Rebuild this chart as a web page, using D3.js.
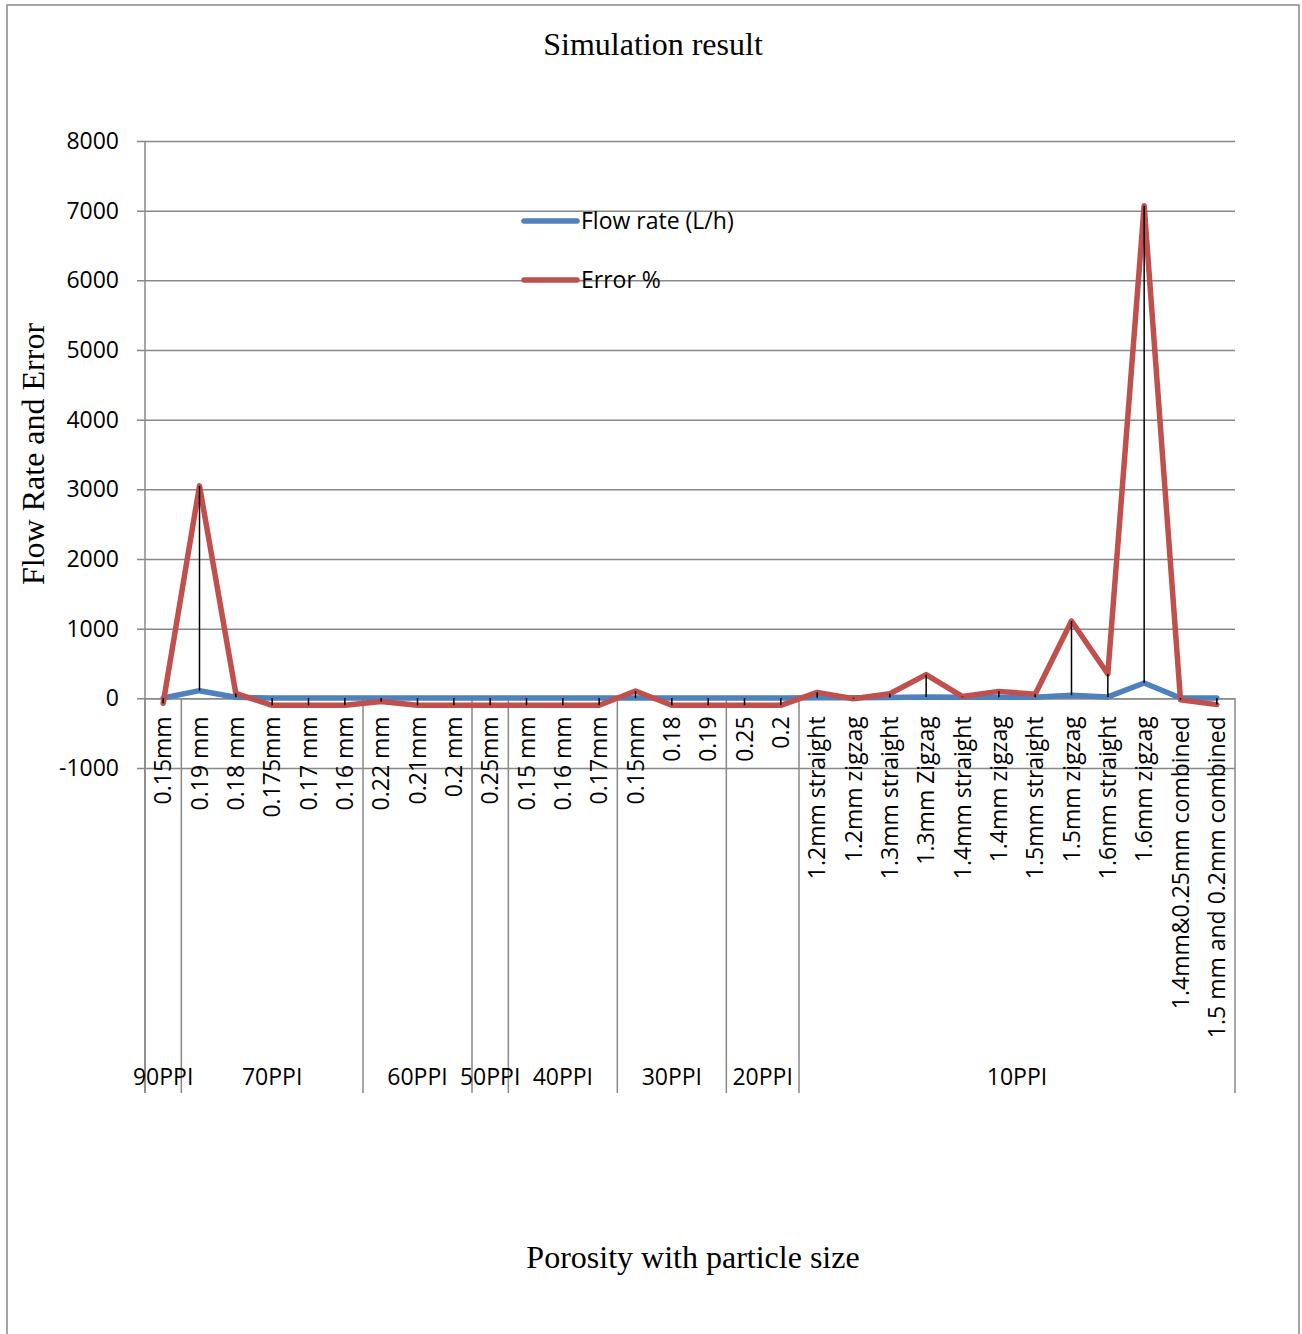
<!DOCTYPE html>
<html>
<head>
<meta charset="utf-8">
<script src="https://cdn.jsdelivr.net/npm/d3@7"></script>
<style>
  html, body { margin: 0; padding: 0; background: #fff; }
  svg { display: block; }
</style>
</head>
<body>
<svg id="chart" width="1302" height="1334"></svg>
<script>
// Porosity groups and how many particle sizes each one covers
const groups = ["90PPI", "70PPI", "60PPI", "50PPI", "40PPI", "30PPI", "20PPI", "10PPI"];
const groupSizes = [1, 5, 3, 1, 3, 3, 2, 12];

// Particle size categories, in plotting order
const categories = [
  "0.15mm",
  "0.19 mm", "0.18 mm", "0.175mm", "0.17 mm", "0.16 mm",
  "0.22 mm", "0.21mm", "0.2 mm",
  "0.25mm",
  "0.15 mm", "0.16 mm", "0.17mm",
  "0.15mm", "0.18", "0.19",
  "0.25", "0.2",
  "1.2mm straight", "1.2mm zigzag", "1.3mm straight", "1.3mm Zigzag",
  "1.4mm straight", "1.4mm zigzag", "1.5mm straight", "1.5mm zigzag",
  "1.6mm straight", "1.6mm zigzag", "1.4mm&0.25mm combined", "1.5 mm and 0.2mm combined"
];

// Series values
const flowRate = [
  5,
  110, 15, 3, 3, 3,
  3, 3, 3,
  3,
  3, 3, 3,
  3, 3, 3,
  3, 3,
  10, 10, 12, 20, 15, 15, 15, 45, 20, 220, 5, 5
];
const errorPct = [
  -70,
  3050, 70, -100, -100, -100,
  -45, -100, -100,
  -100,
  -100, -100, -100,
  105, -100, -100,
  -100, -100,
  85, -5, 65, 340, 25, 100, 60, 1110, 350, 7070, -20, -90
];

const seriesNames = ["Flow rate (L/h)", "Error %"];
const yTicks = [-1000, 0, 1000, 2000, 3000, 4000, 5000, 6000, 7000, 8000];

const svg = d3.select("#chart");
const sansFont = "'Open Sans', 'DejaVu Sans', sans-serif";
const serifFont = "'Liberation Serif', 'Times New Roman', serif";
const sansSize = "23px";
const serifSize = "32px";
const gridColor = "#888888";
const colors = ["#4F81BD", "#C0504D"];

const plotLeft = 145, plotRight = 1235, plotTop = 141, plotBottom = 768, groupBottom = 1093;

const x = d3.scaleBand().domain(d3.range(categories.length)).range([plotLeft, plotRight]);
const y = d3.scaleLinear().domain([-1000, 8000]).range([plotBottom, plotTop]);
const cx = i => x(i) + x.bandwidth() / 2;

// Outer chart frame
svg.append("rect")
  .attr("x", 7).attr("y", 5).attr("width", 1292).attr("height", 1345)
  .attr("fill", "none").attr("stroke", gridColor).attr("stroke-width", 1.5);

// Title
svg.append("text")
  .attr("x", 653).attr("y", 55)
  .attr("text-anchor", "middle")
  .style("font-family", serifFont).style("font-size", serifSize)
  .text("Simulation result");

// Horizontal gridlines and y axis
const yAxis = d3.axisLeft(y).tickValues(yTicks).tickSize(8).tickPadding(18)
  .tickFormat(d => String(d));
const yg = svg.append("g").attr("transform", `translate(${plotLeft},0)`).call(yAxis);
yg.select(".domain").remove();
yg.selectAll(".tick line").attr("stroke", gridColor).attr("stroke-width", 1.5)
  .attr("x1", -8).attr("x2", plotRight - plotLeft);
yg.selectAll(".tick text")
  .style("font-family", sansFont).style("font-size", sansSize).attr("fill", "#000");

// Vertical y axis line, continuing down through the category rows
svg.append("line")
  .attr("x1", plotLeft).attr("x2", plotLeft).attr("y1", plotTop).attr("y2", groupBottom)
  .attr("stroke", gridColor).attr("stroke-width", 1.5);

// Group separators below the zero line
const starts = [0];
groupSizes.forEach((n, i) => starts.push(starts[i] + n));
starts.forEach(s => {
  const gx = s < categories.length ? x(s) : plotRight;
  svg.append("line")
    .attr("x1", gx).attr("x2", gx).attr("y1", y(0)).attr("y2", groupBottom)
    .attr("stroke", gridColor).attr("stroke-width", 1.5);
});

// Category labels on the zero line
const xAxis = d3.axisBottom(x).tickSize(0).tickFormat(i => categories[i]);
const xg = svg.append("g").attr("transform", `translate(0,${y(0)})`).call(xAxis);
xg.select(".domain").attr("stroke", gridColor).attr("stroke-width", 1.5);
xg.selectAll(".tick text")
  .attr("transform", "rotate(-90)")
  .attr("x", -18).attr("y", 0).attr("dy", "0.36em")
  .style("text-anchor", "end")
  .style("font-family", sansFont).style("font-size", sansSize).attr("fill", "#000");

// Group labels
groups.forEach((g, i) => {
  const a = x(starts[i]);
  const b = starts[i + 1] < categories.length ? x(starts[i + 1]) : plotRight;
  svg.append("text")
    .attr("x", (a + b) / 2).attr("y", 1085)
    .attr("text-anchor", "middle")
    .style("font-family", sansFont).style("font-size", sansSize)
    .text(g);
});

// Series lines
const line = d3.line().x((d, i) => cx(i)).y(d => y(d));
[flowRate, errorPct].forEach((s, k) => {
  svg.append("path")
    .datum(s)
    .attr("d", line)
    .attr("fill", "none")
    .attr("stroke", colors[k])
    .attr("stroke-width", 5.5)
    .attr("stroke-linejoin", "round")
    .attr("stroke-linecap", "round");
});

// High-low lines joining the two series at each category
svg.append("g").selectAll("line")
  .data(categories.map((c, i) => i))
  .join("line")
  .attr("x1", i => cx(i)).attr("x2", i => cx(i))
  .attr("y1", i => y(Math.max(flowRate[i], errorPct[i])))
  .attr("y2", i => y(Math.min(flowRate[i], errorPct[i])))
  .attr("stroke", "#000").attr("stroke-width", 1.5);

// Legend
seriesNames.forEach((name, k) => {
  const ly = 221 + k * 59;
  svg.append("line")
    .attr("x1", 524).attr("x2", 577).attr("y1", ly).attr("y2", ly)
    .attr("stroke", colors[k]).attr("stroke-width", 5.5).attr("stroke-linecap", "round");
  svg.append("text")
    .attr("x", 581).attr("y", ly).attr("dy", "0.35em")
    .style("font-family", sansFont).style("font-size", sansSize)
    .text(name);
});

// Axis titles
svg.append("text")
  .attr("transform", "translate(44,454) rotate(-90)")
  .attr("text-anchor", "middle")
  .style("font-family", serifFont).style("font-size", serifSize)
  .text("Flow Rate and Error");

svg.append("text")
  .attr("x", 693).attr("y", 1268)
  .attr("text-anchor", "middle")
  .style("font-family", serifFont).style("font-size", serifSize)
  .text("Porosity with particle size");
</script>
</body>
</html>
